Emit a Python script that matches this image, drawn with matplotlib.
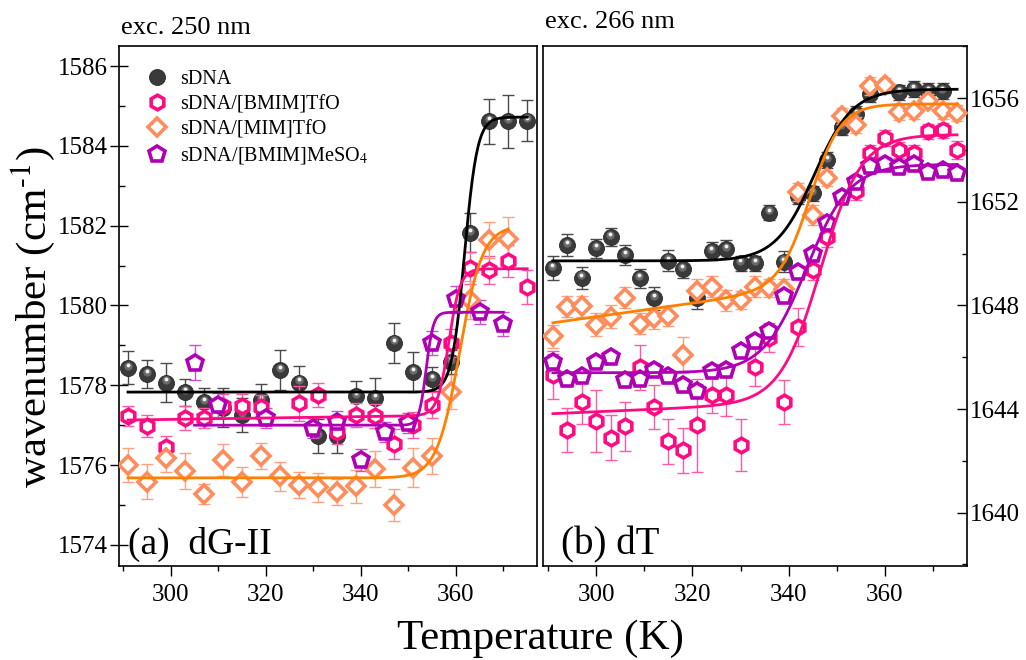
import numpy as np
import matplotlib
matplotlib.use("Agg")
import matplotlib.pyplot as plt
from matplotlib import transforms
from matplotlib.ticker import MultipleLocator

plt.rcParams['font.family'] = ['Liberation Serif', 'DejaVu Serif']
plt.rcParams['mathtext.fontset'] = 'stix'

# ---------------- (a) dG-II band, excitation 250 nm ----------------
a_T_sdna = [291, 295, 299, 303, 307, 311, 315, 319, 323, 327, 331, 335, 339, 343,
            347, 351, 355, 359, 363, 367, 371, 375]
a_W_sdna = [1578.44, 1578.28, 1578.07, 1577.82, 1577.57, 1577.44, 1577.25, 1577.62,
            1578.38, 1578.07, 1576.73, 1576.73, 1577.72, 1577.67, 1579.07, 1578.33,
            1578.15, 1578.59, 1581.82, 1584.61, 1584.61, 1584.63]
a_E_sdna = [0.42, 0.35, 0.48, 0.35, 0.35, 0.48, 0.43, 0.40, 0.50, 0.42, 0.43, 0.43,
            0.40, 0.52, 0.50, 0.50, 0.30, 0.30, 0.49, 0.56, 0.67, 0.51]

a_T_bmim = [291, 295, 299, 303, 307, 311, 315, 319, 327, 331, 335, 339, 343, 347,
            351, 355, 359, 363, 367, 371, 375]
a_W_bmim = [1577.23, 1576.98, 1576.46, 1577.19, 1577.19, 1577.48, 1577.48, 1577.45,
            1577.55, 1577.76, 1576.82, 1577.25, 1577.22, 1576.53, 1577.00, 1577.50,
            1579.07, 1580.94, 1580.90, 1581.11, 1580.46]
a_E_bmim = [0.25, 0.28, 0.27, 0.30, 0.25, 0.30, 0.30, 0.30, 0.44, 0.31, 0.28, 0.30,
            0.30, 0.38, 0.33, 0.33, 0.35, 0.40, 0.35, 0.40, 0.43]

a_T_mim = [291, 295, 299, 303, 307, 311, 315, 319, 323, 327, 331, 335, 339, 343,
           347, 351, 355, 359, 363, 367, 371]
a_W_mim = [1576.00, 1575.58, 1576.17, 1575.86, 1575.28, 1576.13, 1575.57, 1576.23,
           1575.72, 1575.50, 1575.44, 1575.32, 1575.47, 1575.90, 1575.00, 1575.94,
           1576.23, 1577.83, 1580.13, 1581.63, 1581.67]
a_E_mim = [0.42, 0.44, 0.35, 0.45, 0.25, 0.40, 0.38, 0.33, 0.37, 0.33, 0.37, 0.33,
           0.42, 0.46, 0.40, 0.48, 0.45, 0.42, 0.48, 0.45, 0.54]

a_T_meso4 = [305, 310, 320, 330, 335, 340, 345, 350, 355, 360, 365, 370]
a_W_meso4 = [1578.57, 1577.50, 1577.19, 1576.92, 1577.07, 1576.13, 1576.83, 1577.05,
             1579.07, 1580.15, 1579.83, 1579.53]
a_E_meso4 = [0.44, 0.30, 0.25, 0.25, 0.28, 0.27, 0.25, 0.25, 0.30, 0.35, 0.30, 0.30]

# Boltzmann fits: (low, high, T_mid, width, baseline slope, T_start, T_end)
a_fit_sdna = (1577.83, 1584.72, 361.8, 1.35, 0.0, 291, 375)
a_fit_bmim = (1577.13, 1580.92, 358.5, 1.2, 0.0017, 291, 375)
a_fit_mim = (1575.68, 1582.0, 360.8, 2.4, 0.0, 291, 371)
a_fit_meso4 = (1577.0, 1579.83, 353.75, 0.75, 0.0, 305, 370)

# ---------------- (b) dT band, excitation 266 nm ----------------
b_T_sdna = [291, 294, 297, 300, 303, 306, 309, 312, 315, 318, 321, 324, 327, 330,
            333, 336, 339, 342, 345, 348, 351, 354, 357, 363, 366, 369, 372]
b_W_sdna = [1649.45, 1650.33, 1649.07, 1650.20, 1650.65, 1649.95, 1649.04, 1648.27,
            1649.73, 1649.39, 1648.27, 1650.11, 1650.17, 1649.62, 1649.62, 1651.58,
            1649.69, 1652.23, 1652.33, 1653.62, 1654.89, 1655.40, 1656.17, 1656.23,
            1656.35, 1656.28, 1656.28]
b_E_sdna = [0.45, 0.42, 0.42, 0.35, 0.35, 0.40, 0.35, 0.45, 0.40, 0.35, 0.40, 0.35,
            0.35, 0.30, 0.30, 0.30, 0.40, 0.30, 0.30, 0.30, 0.30, 0.30, 0.30, 0.30,
            0.30, 0.30, 0.30]

b_T_bmim = [291, 294, 297, 300, 303, 306, 309, 312, 315, 318, 321, 324, 327, 330,
            333, 336, 339, 342, 345, 348, 354, 357, 360, 363, 366, 369, 372, 375]
b_W_bmim = [1645.30, 1643.18, 1644.27, 1643.54, 1642.89, 1643.33, 1645.62, 1644.08,
            1642.75, 1642.40, 1643.37, 1644.53, 1644.56, 1642.60, 1645.62, 1646.76,
            1644.27, 1647.17, 1649.37, 1650.65, 1652.43, 1653.88, 1654.46, 1654.00,
            1653.90, 1654.72, 1654.76, 1654.00]
b_E_bmim = [0.93, 0.84, 0.84, 1.19, 0.87, 0.95, 0.87, 0.84, 0.88, 0.87, 1.80, 0.68,
            0.84, 1.00, 0.74, 0.55, 0.84, 0.74, 0.40, 0.40, 0.35, 0.30, 0.30, 0.30,
            0.30, 0.30, 0.30, 0.35]

b_T_mim = [291, 294, 297, 300, 303, 306, 309, 312, 315, 318, 321, 324, 327, 330,
           333, 336, 339, 342, 345, 348, 351, 354, 357, 360, 363, 366, 369, 372, 375]
b_W_mim = [1646.81, 1647.95, 1647.97, 1647.26, 1647.56, 1648.30, 1647.30, 1647.50,
           1647.59, 1646.08, 1648.57, 1648.72, 1648.20, 1648.20, 1648.72, 1648.66,
           1648.62, 1652.39, 1651.49, 1652.91, 1655.32, 1654.97, 1656.48, 1656.50,
           1655.45, 1655.49, 1655.88, 1655.49, 1655.43]
b_E_mim = [0.45, 0.40, 0.40, 0.45, 0.45, 0.40, 0.40, 0.40, 0.40, 0.70, 0.45, 0.40,
           0.40, 0.35, 0.40, 0.35, 0.40, 0.35, 0.40, 0.30, 0.30, 0.30, 0.35, 0.30,
           0.30, 0.30, 0.30, 0.30, 0.30]

b_T_meso4 = [291, 294, 297, 300, 303, 306, 309, 312, 315, 318, 321, 324, 327, 330,
             333, 336, 339, 342, 345, 348, 351, 354, 357, 360, 363, 366, 369, 372, 375]
b_W_meso4 = [1645.82, 1645.14, 1645.27, 1645.82, 1645.99, 1645.11, 1645.14, 1645.52,
             1645.27, 1644.92, 1644.70, 1645.47, 1645.52, 1646.24, 1646.63, 1647.00,
             1648.36, 1649.28, 1649.98, 1651.20, 1652.20, 1652.78, 1653.39, 1653.47,
             1653.36, 1653.47, 1653.17, 1653.23, 1653.10]
b_E_meso4 = [0.30, 0.25, 0.25, 0.25, 0.25, 0.25, 0.25, 0.25, 0.25, 0.25, 0.25, 0.25,
             0.25, 0.25, 0.25, 0.25, 0.25, 0.25, 0.25, 0.25, 0.25, 0.25, 0.25, 0.25,
             0.25, 0.25, 0.25, 0.25, 0.25]

b_fit_sdna = (1649.72, 1656.35, 345.3, 4.0, 0.0, 291, 375)
b_fit_bmim = (1643.82, 1654.6, 346.7, 4.2, 0.008, 291, 375)
b_fit_mim = (1647.33, 1655.78, 344.6, 3.2, 0.026, 291, 375)
b_fit_meso4 = (1645.4, 1653.45, 343.7, 4.5, 0.0, 291, 375)

labels = ['sDNA', 'sDNA/[BMIM]TfO', 'sDNA/[MIM]TfO', 'sDNA/[BMIM]MeSO$_4$']

# styles
C_PINK, C_PINK_ERR, C_PINK_FIT = '#FF0A82', '#FF5AA8', '#FF0A82'
C_ORNG, C_ORNG_ERR, C_ORNG_FIT = '#FF8C5A', '#FFA07E', '#FF8000'
C_PURP, C_PURP_ERR, C_PURP_FIT = '#B000B4', '#C855C8', '#B000B4'


def boltzmann(T, lo, hi, x0, dx, slope, t0):
    base = lo + slope * (T - t0)
    return hi + (base - hi) / (1.0 + np.exp((T - x0) / dx))


def draw_fit(ax, p, color):
    lo, hi, x0, dx, slope, t_start, t_end = p
    T = np.linspace(t_start, t_end, 400)
    ax.plot(T, boltzmann(T, lo, hi, x0, dx, slope, 291), color=color, lw=2.0, zorder=6)


def draw_sphere(ax, T, W, E):
    ax.errorbar(T, W, yerr=E, fmt='none', ecolor='#4a4a4a', elinewidth=1.0,
                capsize=4, capthick=1.0, zorder=2)
    h, = ax.plot(T, W, 'o', ms=11.5, mfc='#3a3a3a', mec='#2a2a2a', mew=0.6, zorder=3)
    shine = transforms.offset_copy(ax.transData, fig=ax.figure, x=-0.3, y=1.6, units='points')
    ax.plot(T, W, 'o', ms=6, mfc='#6a6a6a', mec='none', zorder=3, transform=shine)
    shine2 = transforms.offset_copy(ax.transData, fig=ax.figure, x=-0.3, y=2.2, units='points')
    ax.plot(T, W, 'o', ms=2.8, mfc='#f0f0f0', mec='none', zorder=3, transform=shine2)
    return h


def draw_open(ax, T, W, E, marker, ms, color, ecolor):
    ax.errorbar(T, W, yerr=E, fmt='none', ecolor=ecolor, elinewidth=1.0,
                capsize=4, capthick=1.0, zorder=4)
    h, = ax.plot(T, W, marker, ms=ms, mfc='white', mec=color, mew=2.6, zorder=5)
    return h


fig = plt.figure(figsize=(10.26, 6.60), dpi=100)
ax_a = fig.add_axes([0.1155, 0.1429, 0.4076, 0.7867])
ax_b = fig.add_axes([0.5295, 0.1429, 0.4127, 0.7867])

# panel (a)
h1 = draw_sphere(ax_a, a_T_sdna, a_W_sdna, a_E_sdna)
h2 = draw_open(ax_a, a_T_bmim, a_W_bmim, a_E_bmim, 'h', 10.5, C_PINK, C_PINK_ERR)
h3 = draw_open(ax_a, a_T_mim, a_W_mim, a_E_mim, 'D', 9.5, C_ORNG, C_ORNG_ERR)
h4 = draw_open(ax_a, a_T_meso4, a_W_meso4, a_E_meso4, 'p', 12, C_PURP, C_PURP_ERR)
draw_fit(ax_a, a_fit_sdna, 'black')
draw_fit(ax_a, a_fit_bmim, C_PINK_FIT)
draw_fit(ax_a, a_fit_mim, C_ORNG_FIT)
draw_fit(ax_a, a_fit_meso4, C_PURP_FIT)

# panel (b)
draw_sphere(ax_b, b_T_sdna, b_W_sdna, b_E_sdna)
draw_open(ax_b, b_T_bmim, b_W_bmim, b_E_bmim, 'h', 10.5, C_PINK, C_PINK_ERR)
draw_open(ax_b, b_T_mim, b_W_mim, b_E_mim, 'D', 9.5, C_ORNG, C_ORNG_ERR)
draw_open(ax_b, b_T_meso4, b_W_meso4, b_E_meso4, 'p', 12, C_PURP, C_PURP_ERR)
draw_fit(ax_b, b_fit_sdna, 'black')
draw_fit(ax_b, b_fit_bmim, C_PINK_FIT)
draw_fit(ax_b, b_fit_mim, C_ORNG_FIT)
draw_fit(ax_b, b_fit_meso4, C_PURP_FIT)

ax_a.set_xlim(289.0, 377.0)
ax_a.set_ylim(1573.48, 1586.49)
ax_b.set_xlim(289.0, 377.0)
ax_b.set_ylim(1637.95, 1658.0)

for ax in (ax_a, ax_b):
    for s in ax.spines.values():
        s.set_linewidth(1.2)
    ax.xaxis.set_major_locator(MultipleLocator(20))
    ax.xaxis.set_minor_locator(MultipleLocator(10))
    ax.tick_params(axis='x', which='major', direction='out', length=7.5, width=1.0,
                   labelsize=18, pad=5.5, top=False, bottom=True)
    ax.tick_params(axis='x', which='minor', direction='out', length=3.5, width=1.0,
                   top=False, bottom=True)

ax_a.yaxis.set_major_locator(MultipleLocator(2))
ax_a.yaxis.set_minor_locator(MultipleLocator(1))
ax_a.tick_params(axis='y', which='major', direction='inout', length=13, width=1.0,
                 labelsize=18, pad=1, left=True, right=False)
ax_a.tick_params(axis='y', which='minor', direction='in', length=4.5, width=1.0,
                 left=True, right=False)

ax_b.yaxis.set_major_locator(MultipleLocator(4))
ax_b.yaxis.set_minor_locator(MultipleLocator(2))
ax_b.tick_params(axis='y', which='major', direction='in', length=7.5, width=1.0,
                 labelsize=18, pad=2, left=False, right=True,
                 labelleft=False, labelright=True)
ax_b.tick_params(axis='y', which='minor', direction='in', length=3.5, width=1.0,
                 left=False, right=True)

ax_a.legend([h1, h2, h3, h4], labels, loc='upper left', bbox_to_anchor=(0.042, 0.978),
            frameon=False, fontsize=14.5, handlelength=0.9, handletextpad=0.7,
            labelspacing=0.3, borderaxespad=0.2)

ax_a.text(0.022, 0.04, '(a)  dG-II', transform=ax_a.transAxes, fontsize=27,
          ha='left', va='center')
ax_b.text(0.042, 0.04, '(b) dT', transform=ax_b.transAxes, fontsize=28,
          ha='left', va='center')

fig.text(121 / 1026, 1 - 28 / 660, 'exc. 250 nm', fontsize=19, ha='left', va='center')
fig.text(545 / 1026, 1 - 22 / 660, 'exc. 266 nm', fontsize=19, ha='left', va='center')

fig.text(0.032, 0.52, r'wavenumber (cm$^{\text{-}1}$)', fontsize=31, rotation=90,
         ha='center', va='center')
fig.text(0.527, 0.032, 'Temperature (K)', fontsize=31, ha='center', va='center')

fig.savefig('out.png', dpi=100)
